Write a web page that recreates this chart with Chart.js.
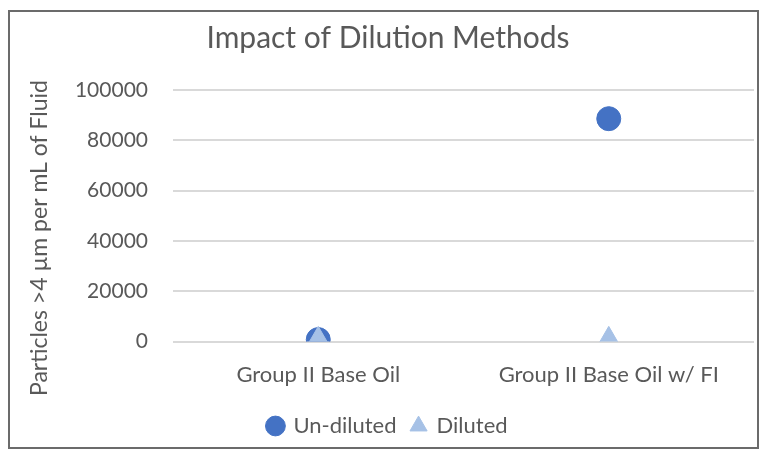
<!DOCTYPE html>
<html>
<head>
<meta charset="utf-8">
<script src="https://cdn.jsdelivr.net/npm/chart.js@4"></script>
<style>
body { margin: 0; background: #fff; }
#box {
    position: absolute; left: 8px; top: 10px;
    width: 747px; height: 435px;
    border: 2px solid #6b6b6b; background: #fff;
}
</style>
</head>
<body>
<div id="box"><canvas id="chart" width="747" height="435"></canvas></div>
<script>
/* datos del grafico */

let categories = ["Group II Base Oil", "Group II Base Oil w/ FI"];
let undiluted = [800, 88600];
let diluted = [100, 100];
let yTicks = [0, 20000, 40000, 60000, 80000, 100000];
let yTitle = "Particles >4 µm per mL of Fluid";

const grey = "#595959";
const font = "Lato";

/* titulo del eje y, un poco mas abajo que el centro del area */
const yTitlePlugin = {
    id: "yTitle",
    afterDraw(chart) {
        const c = chart.ctx;
        c.save();
        c.translate(30, 226);
        c.rotate(-Math.PI / 2);
        c.font = "23px " + font;
        c.fillStyle = grey;
        c.textAlign = "center";
        c.textBaseline = "middle";
        c.fillText(yTitle, 0, 0);
        c.restore();
    }
};

new Chart(
    document.getElementById("chart"),
    {
        type: "line",
        data: {
            labels: categories,
            datasets: [
                {
                    label: "Un-diluted",
                    data: undiluted,
                    showLine: false,
                    order: 2,
                    pointStyle: "circle",
                    pointRadius: 12,
                    backgroundColor: "#4472C4",
                    borderColor: "#4472C4"
                },
                {
                    label: "Diluted",
                    data: diluted,
                    showLine: false,
                    order: 1,
                    pointStyle: "triangle",
                    pointRadius: 15,
                    backgroundColor: "#A6C1E6",
                    borderColor: "#A6C1E6"
                }
            ]
        },
        options: {
            responsive: false,
            animation: false,
            layout: {
                autoPadding: false,
                padding: { left: 12, right: 3, top: 2, bottom: 0 }
            },
            plugins: {
                title: {
                    display: true,
                    text: "Impact of Dilution Methods",
                    color: grey,
                    font: { family: font, size: 30, weight: "normal" },
                    padding: { top: 6, bottom: 34 }
                },
                legend: {
                    position: "bottom",
                    labels: {
                        usePointStyle: true,
                        boxWidth: 14,
                        boxHeight: 14,
                        color: grey,
                        font: { family: font, size: 22 },
                        padding: 15,
                        sort: (a, b) => a.datasetIndex - b.datasetIndex
                    }
                },
                tooltip: { enabled: false }
            },
            scales: {
                x: {
                    offset: true,
                    afterFit: (axis) => { axis.paddingLeft = 0; axis.paddingRight = 0; },
                    grid: { display: false },
                    border: { display: false },
                    ticks: {
                        color: grey,
                        font: { family: font, size: 22 },
                        padding: 12
                    }
                },
                y: {
                    min: 0,
                    max: 100000,
                    afterBuildTicks: (axis) => {
                        axis.ticks = yTicks.map(v => ({ value: v }));
                    },
                    afterFit: (axis) => { axis.width = 151; },
                    grid: { color: "#d9d9d9", lineWidth: 2, drawTicks: false },
                    border: { display: false },
                    ticks: {
                        color: grey,
                        font: { family: font, size: 21 },
                        padding: 25,
                        callback: (v) => String(v)
                    }
                }
            }
        },
        plugins: [yTitlePlugin]
    }
);
</script>
</body>
</html>
